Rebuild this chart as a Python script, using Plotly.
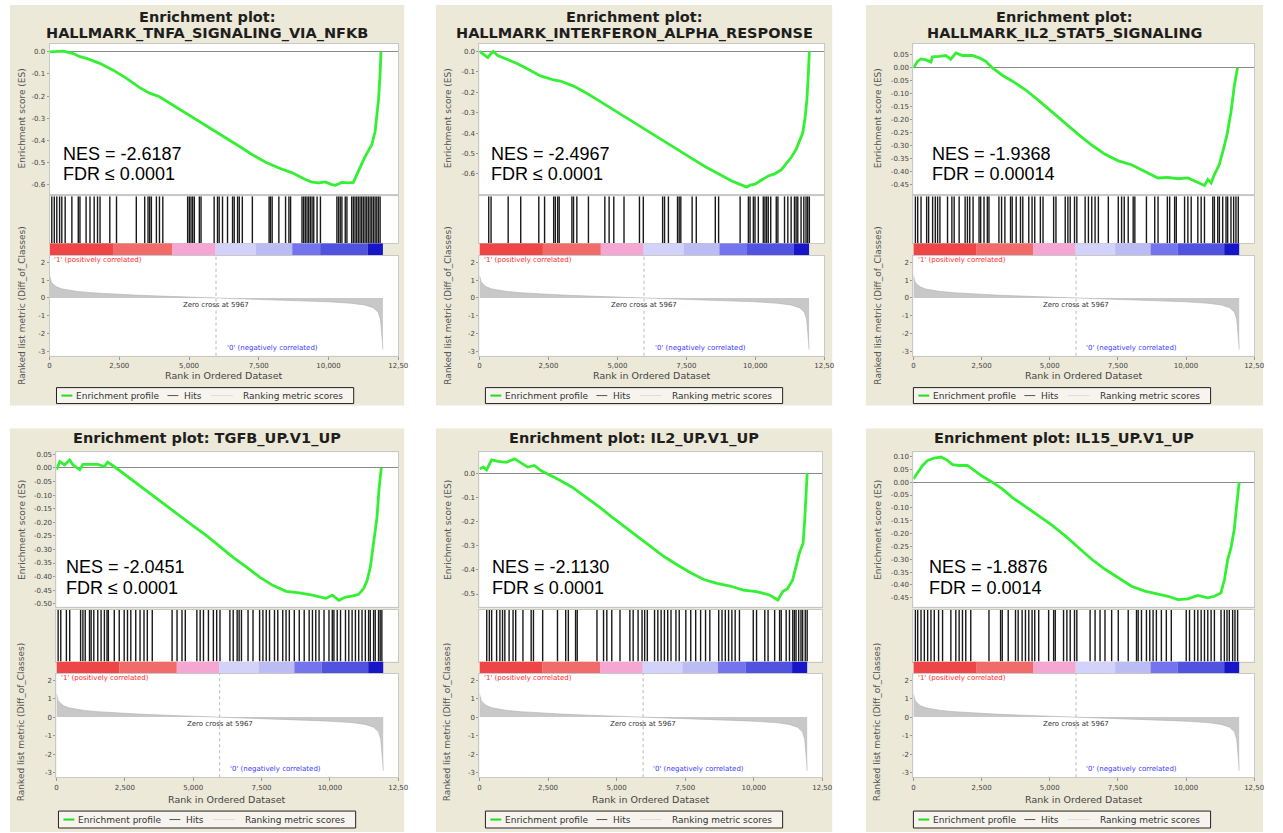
import plotly.graph_objects as go

# ---------------- data ----------------
GENE_SETS = ["HALLMARK_TNFA_SIGNALING_VIA_NFKB", "HALLMARK_INTERFERON_ALPHA_RESPONSE",
             "HALLMARK_IL2_STAT5_SIGNALING", "TGFB_UP.V1_UP", "IL2_UP.V1_UP", "IL15_UP.V1_UP"]
NES = ["-2.6187", "-2.4967", "-1.9368", "-2.0451", "-2.1130", "-1.8876"]
FDR = ["≤ 0.0001", "≤ 0.0001", "= 0.00014", "≤ 0.0001", "≤ 0.0001", "= 0.0014"]

ES_RANKS_1 = [0, 500, 850, 1090, 1330, 1800, 2280, 2760, 3230, 3590, 3940, 4420, 4890, 5370, 5850, 6320, 6800, 7270, 7750, 8220, 8700, 9170, 9410, 9650, 9880, 10120, 10240, 10480, 10720, 10890, 11010, 11130, 11250, 11370, 11430, 11550, 11670, 11790, 11850, 11880]
ES_VALUES_1 = [0.0, 0.003, -0.008, -0.022, -0.03, -0.052, -0.083, -0.12, -0.162, -0.187, -0.203, -0.24, -0.277, -0.315, -0.352, -0.39, -0.427, -0.465, -0.499, -0.525, -0.547, -0.577, -0.589, -0.592, -0.588, -0.60, -0.603, -0.59, -0.592, -0.59, -0.555, -0.52, -0.49, -0.46, -0.445, -0.42, -0.36, -0.22, -0.10, 0.0]

ES_RANKS_2 = [0, 180, 300, 420, 500, 660, 1020, 1380, 1730, 2210, 2690, 2930, 3410, 3890, 4370, 4840, 5320, 5800, 6280, 6760, 7240, 7710, 8190, 8670, 9150, 9510, 9690, 9810, 9990, 10230, 10470, 10700, 10940, 11120, 11300, 11480, 11640, 11720, 11800, 11870, 11920, 11960]
ES_VALUES_2 = [0.0, -0.016, -0.03, -0.01, 0.0, -0.02, -0.04, -0.06, -0.085, -0.12, -0.14, -0.145, -0.17, -0.205, -0.245, -0.285, -0.325, -0.365, -0.405, -0.445, -0.485, -0.525, -0.565, -0.60, -0.635, -0.655, -0.665, -0.655, -0.65, -0.63, -0.61, -0.60, -0.58, -0.55, -0.52, -0.48, -0.42, -0.40, -0.33, -0.24, -0.12, 0.0]

ES_RANKS_3 = [0, 160, 280, 460, 640, 700, 950, 1190, 1370, 1560, 1800, 2160, 2410, 2650, 2890, 3260, 3620, 4110, 4600, 5080, 5570, 6060, 6540, 7030, 7520, 8000, 8490, 8970, 9340, 9700, 10070, 10430, 10680, 10800, 10920, 11040, 11220, 11380, 11500, 11650, 11770, 11890]
ES_VALUES_3 = [0.0, 0.025, 0.034, 0.03, 0.022, 0.042, 0.044, 0.047, 0.032, 0.057, 0.047, 0.047, 0.038, 0.025, 0.0, -0.029, -0.051, -0.085, -0.127, -0.171, -0.216, -0.258, -0.298, -0.334, -0.359, -0.374, -0.40, -0.425, -0.423, -0.428, -0.425, -0.444, -0.454, -0.431, -0.444, -0.412, -0.374, -0.311, -0.26, -0.171, -0.07, 0.0]

ES_RANKS_4 = [0, 120, 300, 480, 600, 850, 970, 1210, 1510, 1750, 1870, 2110, 2600, 3080, 3560, 4050, 4530, 5010, 5500, 5980, 6460, 6950, 7430, 7910, 8400, 8880, 9360, 9850, 10090, 10330, 10570, 10810, 11050, 11240, 11360, 11480, 11600, 11720, 11800, 11880]
ES_VALUES_4 = [-0.007, 0.023, 0.011, 0.029, 0.011, -0.007, 0.013, 0.013, 0.013, 0.005, 0.021, 0.005, -0.032, -0.068, -0.104, -0.144, -0.177, -0.214, -0.25, -0.29, -0.329, -0.365, -0.402, -0.432, -0.454, -0.46, -0.468, -0.48, -0.468, -0.487, -0.475, -0.472, -0.465, -0.443, -0.414, -0.365, -0.28, -0.183, -0.074, 0.0]

ES_RANKS_5 = [0, 140, 260, 440, 680, 980, 1280, 1520, 1760, 2000, 2240, 2480, 2900, 3380, 3860, 4340, 4820, 5300, 5780, 6260, 6740, 7220, 7700, 8180, 8660, 9140, 9620, 10100, 10580, 10880, 11060, 11240, 11420, 11570, 11660, 11750, 11800, 11860, 11910, 11950]
ES_VALUES_5 = [0.018, 0.025, 0.014, 0.055, 0.049, 0.045, 0.059, 0.041, 0.025, 0.032, 0.011, -0.003, -0.027, -0.058, -0.096, -0.137, -0.181, -0.223, -0.264, -0.305, -0.346, -0.38, -0.412, -0.44, -0.456, -0.467, -0.484, -0.49, -0.504, -0.525, -0.49, -0.477, -0.442, -0.374, -0.332, -0.305, -0.291, -0.195, -0.085, 0.0]

ES_RANKS_6 = [0, 160, 340, 520, 770, 1010, 1250, 1440, 1680, 1980, 2230, 2530, 2890, 3260, 3620, 4110, 4600, 5080, 5570, 6060, 6540, 7030, 7520, 8000, 8490, 8970, 9340, 9700, 10070, 10430, 10800, 11040, 11280, 11410, 11530, 11650, 11770, 11870, 11950]
ES_VALUES_6 = [0.013, 0.039, 0.065, 0.085, 0.094, 0.098, 0.085, 0.068, 0.065, 0.065, 0.046, 0.023, 0.0, -0.026, -0.059, -0.094, -0.131, -0.167, -0.209, -0.255, -0.30, -0.339, -0.372, -0.405, -0.424, -0.437, -0.444, -0.457, -0.454, -0.441, -0.45, -0.444, -0.431, -0.379, -0.30, -0.255, -0.183, -0.078, 0.0]

HITS_1 = [80, 170, 260, 360, 440, 560, 800, 1030, 1090, 1310, 1450, 1600, 1720, 1810, 2160, 2400, 3110, 3410, 3530, 3590, 3650, 3830, 3940, 4060, 4950, 5010, 5070, 5130, 5190, 5370, 5430, 5900, 6020, 6080, 6200, 6380, 6560, 6620, 6740, 6800, 6910, 7270, 7870, 7920, 7980, 8220, 8460, 8580, 8640, 9050, 9110, 9170, 9230, 9290, 9350, 9410, 9470, 9590, 9710, 10300, 10360, 10420, 10480, 10600, 10660, 10830, 10890, 10950, 11010, 11070, 11130, 11190, 11250, 11310, 11370, 11430, 11490, 11550, 11610, 11670, 11730, 11790, 11850]
HITS_2 = [335, 420, 1040, 1495, 2150, 2360, 2690, 2750, 2835, 2890, 3350, 3410, 3530, 3950, 4545, 4700, 4870, 5240, 5800, 5940, 6640, 6710, 6850, 7180, 7240, 7300, 7710, 7860, 8550, 8670, 9450, 9750, 9810, 9930, 9990, 10110, 10290, 10350, 10410, 10470, 10560, 10760, 10820, 11060, 11180, 11300, 11420, 11480, 11540, 11660, 11760, 11840, 11900, 11960]
HITS_3 = [73, 158, 280, 486, 559, 705, 803, 888, 973, 1252, 1411, 1496, 1678, 1897, 1982, 2067, 2189, 2408, 2468, 2590, 2712, 2772, 3137, 3235, 3356, 3563, 3624, 3770, 3928, 4013, 4232, 4353, 4451, 4657, 4755, 5144, 5229, 5569, 5667, 5752, 5910, 5995, 6299, 6420, 6542, 6664, 6785, 7150, 7515, 7637, 7734, 7880, 8062, 8123, 8548, 8852, 8974, 9315, 9400, 9582, 9643, 9947, 10068, 10190, 10433, 10555, 10677, 10981, 11041, 11163, 11224, 11345, 11467, 11528, 11649, 11747, 11832, 11917]
HITS_4 = [60, 157, 362, 483, 882, 966, 1051, 1208, 1268, 1365, 1510, 1631, 1752, 1848, 1897, 2114, 2295, 2476, 2597, 2718, 2899, 3056, 3201, 3322, 3503, 4228, 4409, 4590, 4711, 5134, 5255, 5376, 5557, 5738, 5859, 5980, 6342, 6463, 6608, 6680, 6765, 7006, 7188, 7429, 7550, 7671, 7792, 7973, 8094, 8275, 8396, 8516, 8698, 8879, 9060, 9241, 9362, 9483, 9604, 9785, 9966, 10087, 10147, 10268, 10389, 10570, 10691, 10812, 10933, 11054, 11175, 11296, 11416, 11477, 11598, 11658, 11779, 11839, 11900]
HITS_5 = [264, 360, 444, 624, 744, 840, 924, 1080, 1224, 1320, 1584, 1884, 1968, 2304, 2844, 3144, 3240, 3504, 3564, 4284, 4524, 4644, 4824, 5124, 5484, 5604, 5784, 5928, 6024, 6120, 6384, 6504, 6624, 6744, 6864, 6984, 7164, 7284, 7524, 7704, 7884, 8064, 8244, 8400, 8724, 8844, 8964, 9084, 9204, 9324, 9480, 9984, 10104, 10404, 10524, 10764, 10944, 11004, 11184, 11304, 11424, 11484, 11544, 11640, 11724, 11784, 11880, 11950]
HITS_6 = [73, 158, 280, 401, 523, 644, 766, 924, 1070, 1374, 1556, 1678, 1800, 1921, 2104, 2772, 3198, 3259, 3478, 3745, 3843, 3988, 4110, 4232, 4353, 4451, 4597, 4961, 5144, 5204, 5508, 5630, 5752, 5910, 5995, 6481, 6664, 6846, 7028, 7272, 7515, 7880, 8184, 8245, 8366, 8548, 8670, 8792, 8913, 9096, 9278, 9460, 10008, 10129, 10312, 10433, 10555, 10677, 10798, 10920, 11041, 11284, 11406, 11503, 11588, 11710, 11795, 11892]

METRIC_RANKS = [0, 20, 60, 120, 250, 450, 700, 1000, 1500, 2200, 3000, 4000, 5000, 5967, 7000, 8000, 9000, 10000, 10800, 11300, 11600, 11780, 11860, 11900, 11930, 11950]
METRIC_VALUES = [1.25, 1.05, 0.9, 0.78, 0.62, 0.5, 0.42, 0.36, 0.29, 0.22, 0.16, 0.1, 0.05, 0.0, -0.05, -0.1, -0.15, -0.22, -0.3, -0.4, -0.55, -0.8, -1.2, -1.7, -2.4, -2.9]
ZERO_CROSS = 5967

BAND_EDGES = [0, 2300, 4400, 5950, 7400, 8700, 9700, 11400, 11950]
BAND_COLORS = ["#ee4646", "#f26b6b", "#f6a6d2", "#d2d2fa", "#bcbcf4", "#7474ee", "#5252e0", "#1616c8"]

X_TICKS = [0, 2500, 5000, 7500, 10000, 12500]
X_TICK_TEXT = ["0", "2,500", "5,000", "7,500", "10,000", "12,50"]
METRIC_TICKS = [2, 1, 0, -1, -2, -3]
ES_TICKS_A = [0.0, -0.1, -0.2, -0.3, -0.4, -0.5, -0.6]
ES_TICKS_B = [0.05, 0.0, -0.05, -0.1, -0.15, -0.2, -0.25, -0.3, -0.35, -0.4, -0.45]
ES_TICKS_C = [0.05, 0.0, -0.05, -0.1, -0.15, -0.2, -0.25, -0.3, -0.35, -0.4, -0.45, -0.5]
ES_TICKS_D = [0.0, -0.1, -0.2, -0.3, -0.4, -0.5]
ES_TICKS_E = [0.1, 0.05, 0.0, -0.05, -0.1, -0.15, -0.2, -0.25, -0.3, -0.35, -0.4, -0.45]

ES_RANKS = [ES_RANKS_1, ES_RANKS_2, ES_RANKS_3, ES_RANKS_4, ES_RANKS_5, ES_RANKS_6]
ES_VALUES = [ES_VALUES_1, ES_VALUES_2, ES_VALUES_3, ES_VALUES_4, ES_VALUES_5, ES_VALUES_6]
HITS = [HITS_1, HITS_2, HITS_3, HITS_4, HITS_5, HITS_6]
ES_TICKS = [(ES_TICKS_A, 1), (ES_TICKS_A, 1), (ES_TICKS_B, 2), (ES_TICKS_C, 2), (ES_TICKS_D, 1), (ES_TICKS_E, 2)]

# ---------------- layout geometry (pixels) ----------------
W, H = 1283, 833
ROW1 = dict(es=(42, 193), hb=(195, 242), bd=(242, 255), mt=(255, 355), titles=[15, 32],
            nes=(153, 173), xt=375, lg=(387, 403), yt=(117, 305), bgy=(3, 405))
ROW2 = dict(es=(452, 607), hb=(610, 662), bd=(662, 674), mt=(674, 778), titles=[438],
            nes=(567, 588), xt=800, lg=(812, 829), yt=(530, 723), bgy=(428, 833))
GEOM = [
    dict(row=ROW1, bgx=(8, 406), pl=48, pr=400, esr=(-0.644, 0.036), nx=60, lgx=55),
    dict(row=ROW1, bgx=(438, 838), pl=482, pr=830, esr=(-0.70, 0.037), nx=492, lgx=488),
    dict(row=ROW1, bgx=(872, 1273), pl=920, pr=1264, esr=(-0.488, 0.092), nx=937, lgx=920),
    dict(row=ROW2, bgx=(8, 406), pl=55, pr=400, esr=(-0.511, 0.057), nx=63, lgx=57),
    dict(row=ROW2, bgx=(438, 838), pl=482, pr=828, esr=(-0.553, 0.086), nx=493, lgx=488),
    dict(row=ROW2, bgx=(872, 1273), pl=920, pr=1264, esr=(-0.485, 0.116), nx=934, lgx=920),
]
BEIGE = "#ece9d8"
FONT = "DejaVu Sans"
TICKFONT = dict(family=FONT, size=7, color="#444")


def px(x):
    return x / W


def py(y):
    return 1 - y / H


fig = go.Figure()
layout = dict(width=W, height=H, margin=dict(l=0, r=0, t=0, b=0), autosize=False,
              paper_bgcolor="white", plot_bgcolor="rgba(0,0,0,0)", showlegend=False)
shapes, annotations = [], []

for i in range(6):
    g = GEOM[i]
    r = g["row"]
    pl, pr = g["pl"], g["pr"]
    bx0, bx1 = g["bgx"]
    by0, by1 = r["bgy"]
    # beige panel
    shapes.append(dict(type="rect", xref="paper", yref="paper", x0=px(bx0), x1=px(bx1),
                       y0=py(by1), y1=py(by0), fillcolor=BEIGE, line_width=0, layer="below"))
    for key in ("es", "hb", "mt"):
        t, b = r[key]
        shapes.append(dict(type="rect", xref="paper", yref="paper", x0=px(pl), x1=px(pr),
                           y0=py(b), y1=py(t), fillcolor="white", line_width=0, layer="below"))

    k0 = 4 * i
    ids = [k0 + j + 1 for j in range(4)]
    keys = ["es", "hb", "bd", "mt"]
    for j, k in enumerate(ids):
        t, b = r[keys[j]]
        xa = dict(domain=[px(pl), px(pr)], range=[0, 12500], anchor=f"y{k}", showgrid=False,
                  zeroline=False, showline=(j != 2), mirror=True, linecolor="#c8c8c8", linewidth=1,
                  showticklabels=False, ticks="", fixedrange=True)
        ya = dict(domain=[py(b), py(t)], anchor=f"x{k}", showgrid=False, zeroline=False,
                  showline=(j != 2), mirror=True, linecolor="#c8c8c8", linewidth=1,
                  showticklabels=False, ticks="", fixedrange=True)
        if j == 0:
            tv, dec = ES_TICKS[i]
            ya.update(range=list(g["esr"]), tickvals=tv,
                      ticktext=[f"{v:.{dec}f}" if abs(v) > 1e-9 else f"{0:.{dec}f}" for v in tv],
                      showticklabels=True, ticks="outside", ticklen=2, tickcolor="#999",
                      tickfont=TICKFONT, zeroline=True, zerolinecolor="#8a8a8a", zerolinewidth=1)
        elif j == 3:
            ya.update(range=[-3.25, 2.35], tickvals=METRIC_TICKS,
                      ticktext=[str(v) for v in METRIC_TICKS], showticklabels=True,
                      ticks="outside", ticklen=2, tickcolor="#999", tickfont=TICKFONT)
            xa.update(tickvals=X_TICKS, ticktext=X_TICK_TEXT, showticklabels=True,
                      ticks="outside", ticklen=3, tickcolor="#999", tickfont=TICKFONT)
        else:
            ya.update(range=[0, 1])
        sfx = "" if k == 1 else str(k)
        layout[f"xaxis{sfx}"] = xa
        layout[f"yaxis{sfx}"] = ya

    def ax(k):
        return ("x" if k == 1 else f"x{k}"), ("y" if k == 1 else f"y{k}")

    # ES curve
    xr, yr = ax(ids[0])
    fig.add_trace(go.Scatter(x=ES_RANKS[i], y=ES_VALUES[i], mode="lines",
                             line=dict(color="#33f033", width=2.8), xaxis=xr, yaxis=yr,
                             name="Enrichment profile"))
    # hits
    hx, hy = [], []
    for h in HITS[i]:
        hx += [h, h, None]
        hy += [0, 1, None]
    xr, yr = ax(ids[1])
    fig.add_trace(go.Scatter(x=hx, y=hy, mode="lines", line=dict(color="#1a1a1a", width=1.4),
                             xaxis=xr, yaxis=yr, name="Hits"))
    # colour band
    centers = [(BAND_EDGES[m] + BAND_EDGES[m + 1]) / 2 for m in range(len(BAND_COLORS))]
    widths = [BAND_EDGES[m + 1] - BAND_EDGES[m] for m in range(len(BAND_COLORS))]
    xr, yr = ax(ids[2])
    fig.add_trace(go.Bar(x=centers, y=[1] * len(centers), width=widths,
                         marker=dict(color=BAND_COLORS, line_width=0), xaxis=xr, yaxis=yr))
    # ranked metric
    xr, yr = ax(ids[3])
    fig.add_trace(go.Scatter(x=METRIC_RANKS, y=METRIC_VALUES, mode="lines", fill="tozeroy",
                             fillcolor="#c8c8c8", line=dict(color="#b0b0b0", width=0.6),
                             xaxis=xr, yaxis=yr, name="Ranking metric scores"))
    shapes.append(dict(type="line", xref=xr, yref=f"{yr} domain", x0=ZERO_CROSS, x1=ZERO_CROSS,
                       y0=0, y1=1, line=dict(color="#b8b8b8", width=1, dash="dot")))
    annotations += [
        dict(xref=xr, yref=yr, x=80, y=2.12, text="'1' (positively correlated)", showarrow=False,
             xanchor="left", yanchor="middle", font=dict(family=FONT, size=7, color="#ff2a2a")),
        dict(xref=xr, yref=yr, x=ZERO_CROSS, y=-0.4, text=f"Zero cross at {ZERO_CROSS}",
             showarrow=False, xanchor="center", yanchor="middle",
             font=dict(family=FONT, size=7, color="#333")),
        dict(xref=xr, yref=yr, x=8000, y=-2.83, text="'0' (negatively correlated)", showarrow=False,
             xanchor="center", yanchor="middle", font=dict(family=FONT, size=7, color="#3a3aff")),
    ]

    # titles
    cx = (bx0 + bx1) / 2
    if len(r["titles"]) == 2:
        lines = ["Enrichment plot:", GENE_SETS[i]]
    else:
        lines = [f"Enrichment plot: {GENE_SETS[i]}"]
    for ty, txt in zip(r["titles"], lines):
        annotations.append(dict(xref="paper", yref="paper", x=px(cx), y=py(ty), text=f"<b>{txt}</b>",
                                showarrow=False, xanchor="center", yanchor="middle",
                                font=dict(family=FONT, size=14.5, color="#1e1e1e")))
    # NES / FDR
    ny1, ny2 = r["nes"]
    annotations += [
        dict(xref="paper", yref="paper", x=px(g["nx"]), y=py(ny1), text=f"NES = {NES[i]}",
             showarrow=False, xanchor="left", yanchor="middle",
             font=dict(family="Liberation Sans", size=18, color="black")),
        dict(xref="paper", yref="paper", x=px(g["nx"]), y=py(ny2), text=f"FDR {FDR[i]}",
             showarrow=False, xanchor="left", yanchor="middle",
             font=dict(family="Liberation Sans", size=18, color="black")),
    ]
    # axis titles
    yt1, yt2 = r["yt"]
    annotations += [
        dict(xref="paper", yref="paper", x=px(bx0 + 12), y=py(yt1), text="Enrichment score (ES)",
             textangle=-90, showarrow=False, xanchor="center", yanchor="middle",
             font=dict(family=FONT, size=9, color="#555")),
        dict(xref="paper", yref="paper", x=px(bx0 + 12), y=py(yt2),
             text="Ranked list metric (Diff_of_Classes)", textangle=-90, showarrow=False,
             xanchor="center", yanchor="middle", font=dict(family=FONT, size=9, color="#555")),
        dict(xref="paper", yref="paper", x=px((pl + pr) / 2), y=py(r["xt"]),
             text="Rank in Ordered Dataset", showarrow=False, xanchor="center", yanchor="middle",
             font=dict(family=FONT, size=9.5, color="#444")),
    ]
    # legend box
    L = g["lgx"]
    lt, lb = r["lg"]
    lc = (lt + lb) / 2
    shapes += [
        dict(type="rect", xref="paper", yref="paper", x0=px(L), x1=px(L + 300), y0=py(lb), y1=py(lt),
             fillcolor="#f6f4ec", line=dict(color="#222", width=1)),
        dict(type="line", xref="paper", yref="paper", x0=px(L + 5), x1=px(L + 16), y0=py(lc), y1=py(lc),
             line=dict(color="#22dd22", width=2)),
        dict(type="line", xref="paper", yref="paper", x0=px(L + 112), x1=px(L + 123), y0=py(lc), y1=py(lc),
             line=dict(color="#555", width=1)),
        dict(type="line", xref="paper", yref="paper", x0=px(L + 156), x1=px(L + 178), y0=py(lc), y1=py(lc),
             line=dict(color="#dcdcdc", width=1)),
    ]
    for tx, txt in [(L + 18, "Enrichment profile"), (L + 127, "Hits"), (L + 186, "Ranking metric scores")]:
        annotations.append(dict(xref="paper", yref="paper", x=px(tx), y=py(lc), text=txt,
                                showarrow=False, xanchor="left", yanchor="middle",
                                font=dict(family=FONT, size=9, color="#333")))

layout["shapes"] = shapes
layout["annotations"] = annotations
fig.update_layout(**layout)

fig.write_html("out.html", config={"displayModeBar": False},
               post_script="document.body.style.margin='0';document.body.style.overflow='hidden';")
